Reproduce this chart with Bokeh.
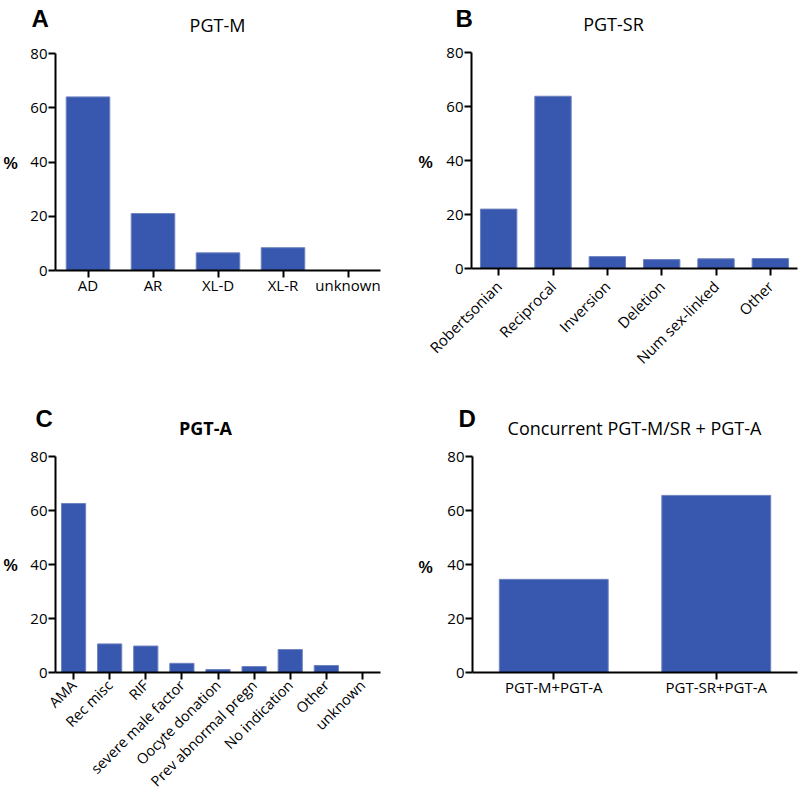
from bokeh.plotting import figure
from bokeh.layouts import row, column
from bokeh.models import Label, Range1d, FixedTicker, CustomJSTickFormatter
from bokeh.embed import file_html
from bokeh.resources import INLINE

# ---- data ----
cats_a = ["AD", "AR", "XL-D", "XL-R", "unknown"]
vals_a = [64.0, 21.0, 6.5, 8.4, 0.0]

cats_b = ["Robertsonian", "Reciprocal", "Inversion", "Deletion", "Num sex-linked", "Other"]
vals_b = [22.0, 63.8, 4.4, 3.3, 3.6, 3.7]

cats_c = ["AMA", "Rec misc", "RIF", "severe male factor", "Oocyte donation",
          "Prev abnormal pregn", "No indication", "Other", "unknown"]
vals_c = [62.6, 10.6, 9.8, 3.4, 1.1, 2.2, 8.5, 2.6, 0.0]

cats_d = ["PGT-M+PGT-A", "PGT-SR+PGT-A"]
vals_d = [34.5, 65.6]

y_ticks = [0, 20, 40, 60, 80]
Y_MAX = 80

BAR = "#3858b0"
EDGE = "#6f82bd"
TICK_FONT = "Open Sans"


def panel(cats, vals, letter, title, title_bold, rot_standoff, xlab_size,
          fig_x, fig_y, w, h, ax_left, ax_right, ax_bottom, ax_top,
          letter_pos, title_pos, pct_pos):
    n = len(cats)
    cat_px = (ax_right - ax_left) / n
    upx = (ax_bottom - ax_top) / Y_MAX

    def dx(px):  # page pixel -> x data (category index units)
        return (px - ax_left) / cat_px - 0.5

    def dy(py):  # page pixel -> y data
        return (ax_bottom - py) / upx

    p = figure(x_range=Range1d(dx(fig_x), dx(fig_x + w)),
               y_range=Range1d(dy(fig_y + h), dy(fig_y)),
               width=w, height=h, output_backend="svg", toolbar_location=None,
               min_border=0, min_border_left=0, min_border_right=0,
               min_border_top=0, min_border_bottom=0)
    xs = list(range(n))
    p.vbar(x=xs, top=vals, width=0.67, fill_color=BAR, line_color=EDGE, line_width=1)
    p.outline_line_color = None
    p.xgrid.grid_line_color = None
    p.ygrid.grid_line_color = None

    xa = p.xaxis[0]
    ya = p.yaxis[0]
    for ax in (xa, ya):
        ax.axis_line_width = 2
        ax.axis_line_color = "black"
        ax.major_tick_line_width = 2
        ax.major_tick_line_color = "black"
        ax.major_tick_out = 7
        ax.major_tick_in = 0
        ax.minor_tick_line_color = None
        ax.major_label_text_font = TICK_FONT
        ax.major_label_text_font_size = "15px"
        ax.major_label_text_color = "black"
    xa.major_label_text_font_size = xlab_size
    xa.fixed_location = 0
    xa.bounds = (-0.5, n - 0.5)
    xa.ticker = FixedTicker(ticks=xs)
    xa.formatter = CustomJSTickFormatter(
        args=dict(names=cats),
        code="const i = Math.round(tick); return (i >= 0 && i < names.length) ? names[i] : '';")
    if rot_standoff is None:
        xa.major_label_standoff = -3
    else:
        xa.major_label_standoff = rot_standoff
        xa.major_label_orientation = 0.785398
    ya.fixed_location = -0.5
    ya.bounds = (0, Y_MAX)
    ya.ticker = FixedTicker(ticks=y_ticks)
    ya.major_label_standoff = 1

    p.add_layout(Label(x=dx(letter_pos[0]), y=dy(letter_pos[1] - 7),
                       text=letter, text_font="Liberation Sans", text_font_style="bold",
                       text_font_size="24px", text_color="black",
                       text_baseline="alphabetic"))
    p.add_layout(Label(x=dx(title_pos[0]), y=dy(title_pos[1] - 5),
                       text=title, text_font=TICK_FONT,
                       text_font_style="bold" if title_bold else "normal",
                       text_font_size="18px", text_align="center", text_color="black",
                       text_baseline="alphabetic"))
    p.add_layout(Label(x=dx(pct_pos[0]), y=dy(pct_pos[1] - 5),
                       text="%", text_font="Liberation Sans", text_font_style="bold",
                       text_font_size="16px", text_color="black",
                       text_baseline="alphabetic"))
    return p


pA = panel(cats_a, vals_a, "A", "PGT-M", False, None, "15px",
           0, 0, 398, 390, 55, 380, 270, 53,
           (31, 25), (217, 29), (3, 168))
pB = panel(cats_b, vals_b, "B", "PGT-SR", False, 8, "15px",
           398, 0, 400, 390, 471, 797, 268, 52,
           (455, 25), (613, 28), (418, 167))
pC = panel(cats_c, vals_c, "C", "PGT-A", True, 3, "14.5px",
           0, 390, 398, 404, 55, 380, 672, 456,
           (35, 425), (205, 432), (3, 570))
pD = panel(cats_d, vals_d, "D", "Concurrent PGT-M/SR + PGT-A", False, None, "15px",
           398, 390, 400, 404, 472, 797, 672, 456,
           (458, 425), (634, 432), (418, 572))

layout = column(row(pA, pB), row(pC, pD))

with open("out.html", "w") as f:
    f.write(file_html(layout, INLINE))
